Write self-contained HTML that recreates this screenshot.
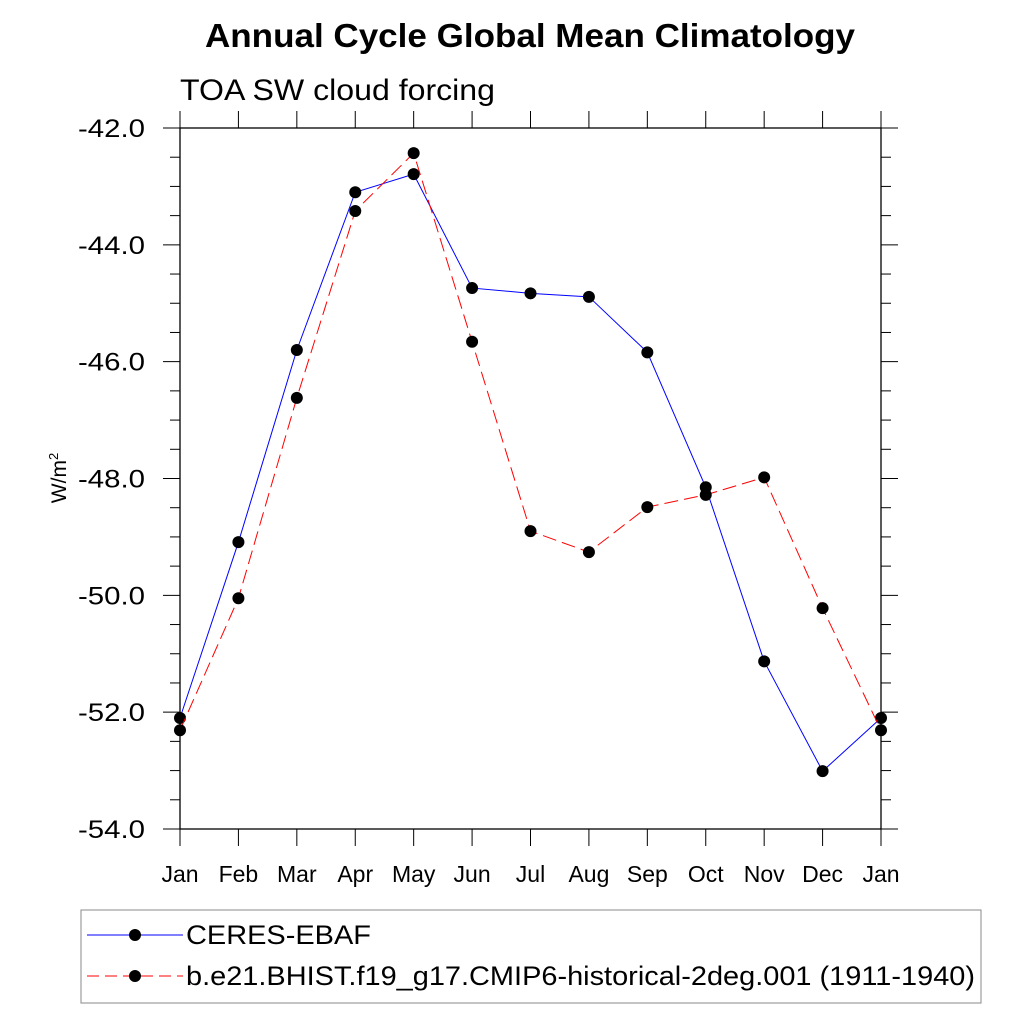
<!DOCTYPE html>
<html><head><meta charset="utf-8"><style>body{margin:0;background:#fff}svg{display:block}</style></head>
<body>
<svg id="chart" width="1024" height="1024" viewBox="0 0 1024 1024" xmlns="http://www.w3.org/2000/svg" font-family="Liberation Sans, sans-serif">
<text x="205" y="47" font-size="33" font-weight="bold" textLength="650" lengthAdjust="spacingAndGlyphs">Annual Cycle Global Mean Climatology</text>
<text x="180" y="100" font-size="30" textLength="315" lengthAdjust="spacingAndGlyphs">TOA SW cloud forcing</text>
<text transform="translate(66,478) rotate(-90)" font-size="21" text-anchor="middle">W/m<tspan font-size="13" dy="-8">2</tspan></text>
<g id="axes"></g>
<g id="series"></g>
<g>
<rect x="81" y="910" width="900" height="93" fill="none" stroke="#888" stroke-width="1"/>
<line x1="87" y1="935" x2="183" y2="935" stroke="#0000ff" stroke-width="1"/>
<circle cx="135" cy="935" r="6" fill="#000"/>
<text x="186" y="944" font-size="27" textLength="185" lengthAdjust="spacingAndGlyphs">CERES-EBAF</text>
<line x1="87" y1="976" x2="183" y2="976" stroke="#ff0000" stroke-width="1" stroke-dasharray="12,6"/>
<circle cx="135" cy="976" r="6" fill="#000"/>
<text x="186" y="985" font-size="27" textLength="789" lengthAdjust="spacingAndGlyphs">b.e21.BHIST.f19_g17.CMIP6-historical-2deg.001 (1911-1940)</text>
</g>
</svg>
<script>
const months = ["Jan","Feb","Mar","Apr","May","Jun","Jul","Aug","Sep","Oct","Nov","Dec","Jan"];
const ceres = [-52.1,-49.09,-45.8,-43.1,-42.79,-44.74,-44.83,-44.89,-45.84,-48.15,-51.13,-53.01,-52.1];
const model = [-52.31,-50.05,-46.62,-43.42,-42.43,-45.66,-48.9,-49.26,-48.49,-48.28,-47.98,-50.22,-52.31];
const yTicks = [-42,-44,-46,-48,-50,-52,-54];
const yTickLabels = ["-42.0","-44.0","-46.0","-48.0","-50.0","-52.0","-54.0"];
const NS="http://www.w3.org/2000/svg";
const X0=180,X1=881,Y0=128,Y1=829,YMAX=-42,YMIN=-54;
function xs(i){return X0+(X1-X0)*i/(months.length-1);}
function ys(v){return Y0+(YMAX-v)/(YMAX-YMIN)*(Y1-Y0);}
function mk(tag,attrs,parent){const e=document.createElementNS(NS,tag);for(const k in attrs)e.setAttribute(k,attrs[k]);parent.appendChild(e);return e;}
const ax=document.getElementById('axes');
const fr=mk('rect',{x:X0,y:Y0,width:X1-X0,height:Y1-Y0,fill:'none',stroke:'#000','stroke-width':1.3},ax);


months.forEach((m,i)=>{const x=xs(i);
mk('line',{x1:x,y1:Y1,x2:x,y2:Y1+17,stroke:'#000'},ax);
mk('line',{x1:x,y1:Y0,x2:x,y2:Y0-17,stroke:'#000'},ax);
const t=mk('text',{x:x,y:882,'font-size':23,'text-anchor':'middle'},ax);t.textContent=m;

});
for(let v=YMAX;v>=YMIN-0.001;v-=0.5){const y=ys(v);const major=Math.abs(v-Math.round(v/2)*2)<0.01;const L=major?17:10;
mk('line',{x1:X0,y1:y,x2:X0-L,y2:y,stroke:'#000'},ax);mk('line',{x1:X1,y1:y,x2:X1+L,y2:y,stroke:'#000'},ax);}
yTicks.forEach((v,i)=>{const t=mk('text',{x:78,y:ys(v)+9,'font-size':25,textLength:67,lengthAdjust:'spacingAndGlyphs'},ax);t.textContent=yTickLabels[i];

});
const sg=document.getElementById('series');
function draw(data,color,dash,name){
const p=mk('polyline',{points:data.map((v,i)=>xs(i)+','+ys(v)).join(' '),fill:'none',stroke:color,'stroke-width':1,'stroke-dasharray':dash},sg);


data.forEach((v,i)=>{const c=mk('circle',{cx:xs(i),cy:ys(v),r:6,fill:'#000'},sg);

});}
draw(ceres,'#0000ff','none','ceres');
draw(model,'#ff0000','14,6','model');
</script>
</body></html>
